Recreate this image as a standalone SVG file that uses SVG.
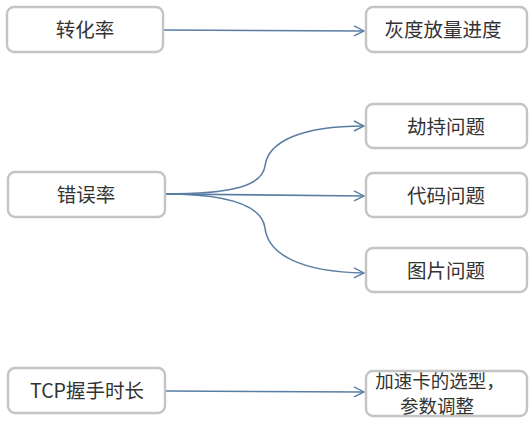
<svg xmlns="http://www.w3.org/2000/svg" width="531" height="424" viewBox="0 0 531 424">
<style>
.box{fill:#fff;stroke:#c4c4c4;stroke-width:2.4}
.t{font-family:"Noto Sans CJK SC","Liberation Sans",sans-serif;font-size:19.5px;fill:#333;text-anchor:middle}
.s{font-size:18.5px}
.c{fill:none;stroke:#5a7ea3;stroke-width:1.6}
</style>
<defs>
<marker id="ah" viewBox="0 0 12 12" refX="11" refY="6" markerWidth="12" markerHeight="12" markerUnits="userSpaceOnUse" orient="auto">
<path d="M1,1 L11,6 L1,11" fill="none" stroke="#5a7ea3" stroke-width="1.4"/>
</marker>
</defs>
<g id="connectors">
<path class="c" d="M163,30 L364,31" marker-end="url(#ah)"/>
<path class="c" d="M165,194 C232,194 262,186 265,166 C268,142 300,126 364,126" marker-end="url(#ah)"/>
<path class="c" d="M165,194 L364,196" marker-end="url(#ah)"/>
<path class="c" d="M165,194 C232,194 262,206 265,228 C268,254 300,272 364,273" marker-end="url(#ah)"/>
<path class="c" d="M165,391 L364,392" marker-end="url(#ah)"/>
</g>
<g id="n1"><rect class="box" x="7" y="7" width="156" height="45" rx="7"/><text class="t" x="85" y="37">转化率</text></g>
<g id="n2"><rect class="box" x="366" y="7" width="161" height="45" rx="7"/><text class="t" x="443" y="37">灰度放量进度</text></g>
<g id="n3"><rect class="box" x="8" y="172" width="157" height="45" rx="7"/><text class="t" x="86" y="202">错误率</text></g>
<g id="n4"><rect class="box" x="366" y="104" width="161" height="44" rx="7"/><text class="t" x="446" y="134">劫持问题</text></g>
<g id="n5"><rect class="box" x="366" y="173" width="161" height="44" rx="7"/><text class="t" x="446" y="203">代码问题</text></g>
<g id="n6"><rect class="box" x="366" y="248" width="161" height="44" rx="7"/><text class="t" x="446" y="278">图片问题</text></g>
<g id="n7"><rect class="box" x="8" y="368" width="157" height="45" rx="7"/><text class="t" x="87" y="398">TCP握手时长</text></g>
<g id="n8"><rect class="box" x="366" y="371" width="161" height="45" rx="7"/><text class="t s" x="440" y="388">加速卡的选型，</text><text class="t s" x="437" y="413">参数调整</text></g>
</svg>
